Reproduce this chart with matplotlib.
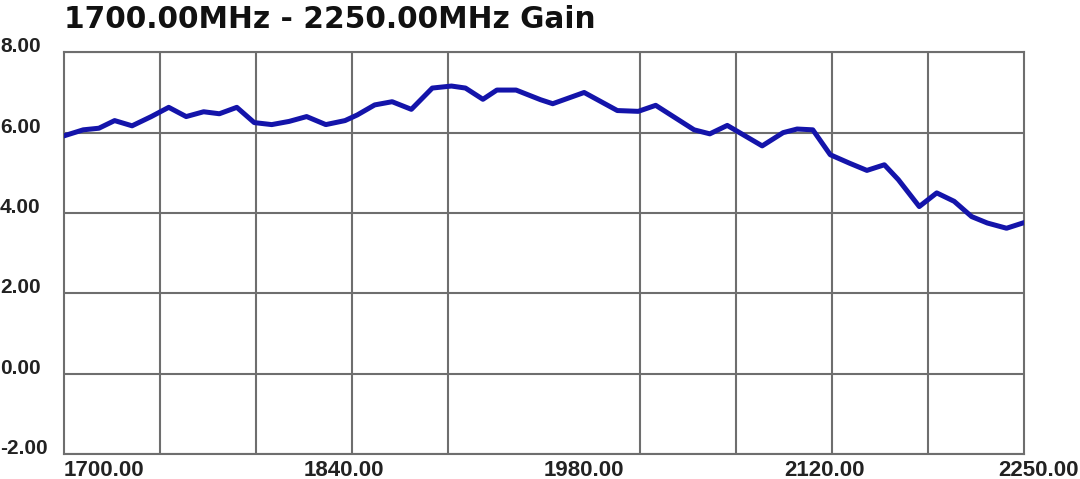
"""
Gain sweep 1700-2250 MHz, redrawn with matplotlib.
"""
import numpy as np
import matplotlib.pyplot as plt
from matplotlib.transforms import ScaledTranslation

# gain curve
freq = [1700, 1711, 1720, 1729, 1739, 1750, 1760, 1770, 1780, 1789,
        1799, 1809, 1819, 1829, 1839, 1850, 1861, 1868, 1878, 1888,
        1899, 1911, 1922, 1930, 1940, 1948, 1959, 1973, 1980, 1998,
        2017, 2029, 2039, 2061, 2070, 2080, 2100, 2112, 2120, 2129,
        2139, 2150, 2160, 2170, 2178, 2190, 2200, 2210, 2220, 2229,
        2240, 2250]
gain = [5.92, 6.07, 6.11, 6.30, 6.17, 6.40, 6.63, 6.40, 6.52, 6.47,
        6.63, 6.25, 6.20, 6.28, 6.40, 6.20, 6.30, 6.44, 6.69, 6.77,
        6.58, 7.11, 7.16, 7.11, 6.83, 7.06, 7.06, 6.82, 6.72, 7.00,
        6.55, 6.53, 6.68, 6.07, 5.97, 6.18, 5.67, 6.00, 6.09, 6.07,
        5.45, 5.24, 5.06, 5.20, 4.83, 4.16, 4.50, 4.29, 3.91, 3.75,
        3.62, 3.76]

# labels as printed by the instrument (placed every quarter of the span)
xtick_pos = [1700, 1837.5, 1975, 2112.5, 2250]
xtick_labels = ["1700.00", "1840.00", "1980.00", "2120.00", "2250.00"]
ytick_pos = [-2, 0, 2, 4, 6, 8]
ytick_labels = ["-2.00", "0.00", "2.00", "4.00", "6.00", "8.00"]

grid_col = "#6e6e6e"

fig = plt.figure(figsize=(10.8, 4.79), dpi=100)
ax = fig.add_axes([64/1080, 1 - 454/479, 960/1080, (454 - 52.3)/479])

ax.plot(freq, gain, color="#1414aa", linewidth=3.6, solid_capstyle="round",
        solid_joinstyle="round", zorder=3)

ax.set_xlim(1700, 2250)
ax.set_ylim(-2, 8)

# vertical grid every 55 MHz (10 divisions), horizontal every 2 dB
ax.set_xticks(np.arange(1700, 2251, 55), minor=True)
ax.set_xticks(xtick_pos, xtick_labels)
ax.set_yticks(ytick_pos, ytick_labels)
ax.grid(which="minor", axis="x", color=grid_col, linewidth=1.5, zorder=0)
ax.grid(which="major", axis="y", color=grid_col, linewidth=1.5, zorder=0)
ax.grid(which="major", axis="x", visible=False)

for s in ax.spines.values():
    s.set_color(grid_col)
    s.set_linewidth(1.5)

ax.tick_params(axis="both", which="both", length=0)
ax.tick_params(axis="x", pad=4)
ax.tick_params(axis="y", pad=46)

for lab in ax.get_xticklabels():
    lab.set_fontfamily("Liberation Sans")
    lab.set_fontweight("bold")
    lab.set_fontsize(16)
    lab.set_color("#222222")
    lab.set_horizontalalignment("left")
# last label is pushed back inside the picture
last = ax.get_xticklabels()[-1]
last.set_transform(last.get_transform()
                   + ScaledTranslation(-0.26, 0, fig.dpi_scale_trans))

for lab in ax.get_yticklabels():
    lab.set_fontfamily("Liberation Sans")
    lab.set_fontweight("bold")
    lab.set_fontsize(15)
    lab.set_color("#222222")
    lab.set_horizontalalignment("left")
    lab.set_verticalalignment("baseline")

fig.text(64/1080, 1 - 28.3/479, "1700.00MHz - 2250.00MHz Gain",
         fontfamily="DejaVu Sans", fontweight="bold", fontsize=21.3,
         color="#111111", ha="left", va="baseline")

plt.savefig("out.png", dpi=100)
